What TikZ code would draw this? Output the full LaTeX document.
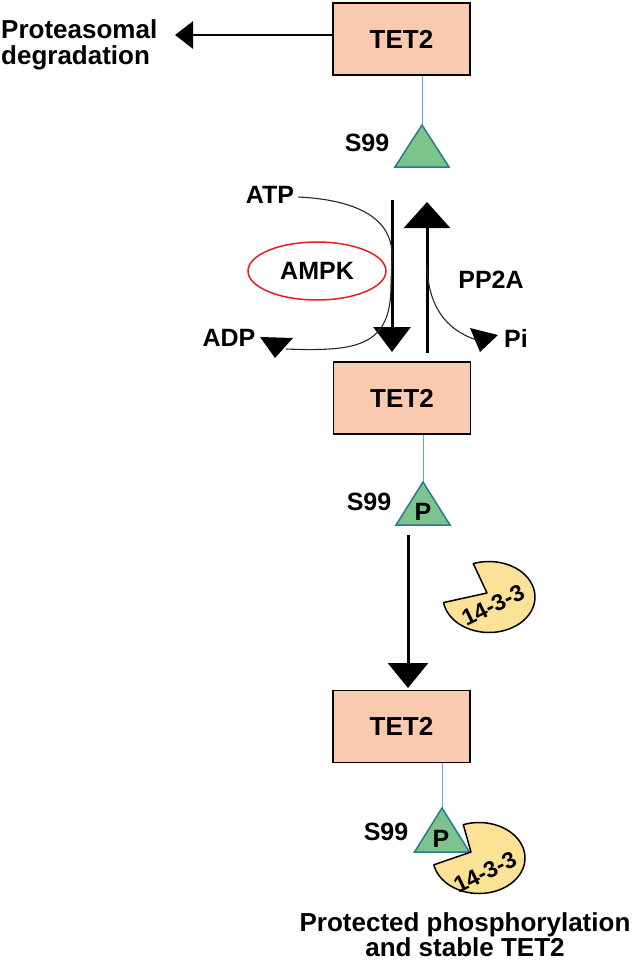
\documentclass[tikz,border=0pt]{standalone}
\usepackage{fontspec}
\setmainfont{Liberation Sans}
\usetikzlibrary{arrows.meta,calc,shapes.geometric}
\definecolor{boxfill}{RGB}{250,202,176}
\definecolor{trifill}{RGB}{125,196,140}
\definecolor{tridraw}{RGB}{40,120,150}
\definecolor{linkblue}{RGB}{90,170,220}
\definecolor{pacfill}{RGB}{252,226,150}
\definecolor{ampkred}{RGB}{230,30,35}
\definecolor{thingray}{RGB}{40,40,40}
\begin{document}
\begin{tikzpicture}[x=1pt,y=1pt,
 lbl/.style={font=\fontsize{25}{27}\selectfont\bfseries, inner sep=0pt},
 tetbox/.style={draw=black, line width=1.5pt, fill=boxfill, minimum width=137pt, minimum height=72pt, inner sep=0pt, font=\fontsize{26}{28}\selectfont\bfseries},
 tri/.style={fill=trifill, draw=tridraw, line width=1.5pt, line join=miter},
 link/.style={draw=linkblue, line width=1pt},
 thickline/.style={line width=3pt},
 thincurve/.style={draw=thingray, line width=1.1pt},
 headfill/.style={fill=black},
 pac/.style={fill=pacfill, draw=black, line width=1.5pt, line join=round},
 paclbl/.style={font=\fontsize{23}{25}\selectfont\bfseries, inner sep=0pt, rotate=26}
]
\useasboundingbox (0,0) rectangle (633,-966);

% boxes
\node[tetbox] (box1) at (401.5,-39) {TET2};
\node[tetbox] (box2) at (402,-398) {TET2};
\node[tetbox] (box3) at (401.5,-726.5) {TET2};

% proteasomal degradation
\node[lbl, anchor=north west, align=left, font=\fontsize{26}{26}\selectfont\bfseries] (prot) at (1,-19) {Proteasomal\\degradation};
\coordinate (degtip) at (175,-35);
\draw[line width=2.8pt, -{Triangle[length=18pt,width=27pt]}] (box1.west |- degtip) -- (degtip);

% triangles
\coordinate (t1) at (422,-125);
\draw[link] (t1) -- (t1 |- box1.south);
\draw[tri] (t1) -- ++(-27,-42) -- ++(54,0) -- cycle;
\node[lbl] (s1) at (367,-143) {S99};

\coordinate (t2) at (423,-482);
\draw[link] (t2) -- (t2 |- box2.south);
\draw[tri] (t2) -- ++(-27,-43) -- ++(54,0) -- cycle;
\node[lbl] (p2) at (423,-512) {P};
\node[lbl] (s2) at (369,-502) {S99};

\coordinate (t3) at (442,-808);
\draw[link] (t3) -- (t3 |- box3.south);
\draw[tri] (t3) -- ++(-27.5,-44) -- ++(55,0) -- cycle;
\node[lbl] (p3) at (441,-839) {P};
\node[lbl] (s3) at (386,-832) {S99};

% middle reactions
\coordinate (dstart) at (392,-200);
\coordinate (dtip) at (392,-352);
\draw[thickline, -{Triangle[length=25pt,width=37pt]}] (dstart) -- (dtip);
\coordinate (ustart) at (427,-353);
\coordinate (utip) at (427,-202);
\draw[thickline, -{Triangle[length=26pt,width=46pt]}] (ustart) -- (utip);

\node[lbl] (atp) at (270,-195) {ATP};
\node[lbl] (adp) at (229,-338) {ADP};
\node[lbl] (pp2a) at (491,-280) {PP2A};
\node[lbl] (pi) at (516,-338) {Pi};
\node[draw=ampkred, line width=1.5pt, ellipse, minimum width=138pt, minimum height=58pt, inner sep=0pt, font=\fontsize{25}{27}\selectfont\bfseries] (ampk) at (317,-271) {AMPK};

% ATP -> ADP curve
\coordinate (adphead) at (276,-338);
\draw[thincurve] ([xshift=4pt,yshift=-2pt]atp.east) .. controls (360,-200) and (392,-220) .. (392,-255) -- (391,-285) .. controls (391,-345) and (360,-352) .. ($(adphead)+(10,-11)$);
\fill[headfill] ($(adphead)+(-16,1)$) -- ($(adphead)+(17,0)$) -- ($(adphead)+(-1,-20)$) -- cycle;

% PP2A -> Pi curve
\coordinate (pihead) at (482,-338);
\draw[thincurve] (427,-265) .. controls (428,-305) and (445,-330) .. ($(pihead)+(-5,-2)$);
\fill[headfill] ($(pihead)+(-12,10)$) -- ($(pihead)+(16,3)$) -- ($(pihead)+(-2,-14)$) -- cycle;

% lower arrow
\coordinate (lstart) at (408,-535);
\coordinate (ltip) at (408,-688);
\draw[thickline, -{Triangle[length=25pt,width=40pt]}] (lstart) -- (ltip);

% 14-3-3 pacmen
\coordinate (c1) at (489,-597);
\draw[pac] ($(c1)+(-2,4)$) -- ($(c1)+(110:46 and 35.5)$) arc[start angle=110, end angle=-171, x radius=46, y radius=35.5] -- cycle;
\node[paclbl] (k1) at (493,-605) {14-3-3};

\coordinate (c2) at (479,-858);
\draw[pac] ($(c2)+(-8,6)$) -- ($(c2)+(110:46 and 35.5)$) arc[start angle=110, end angle=-169, x radius=46, y radius=35.5] -- cycle;
\node[paclbl] (k2) at (485,-872) {14-3-3};

% bottom caption
\node[lbl, anchor=north, align=center, font=\fontsize{26}{24}\selectfont\bfseries] (cap) at (465,-912) {Protected phosphorylation\\and stable TET2};
\end{tikzpicture}
\end{document}
